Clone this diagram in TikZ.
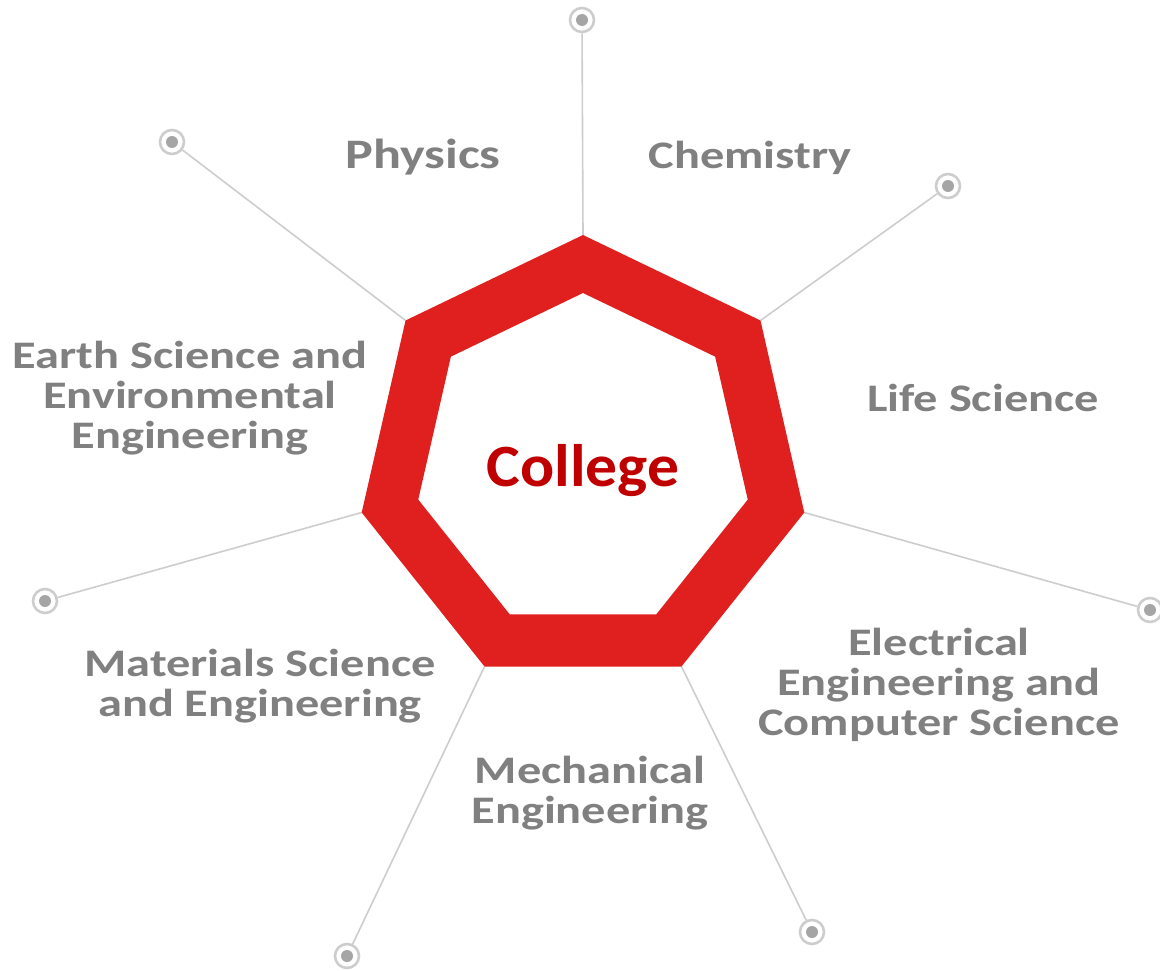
\documentclass[tikz,border=0pt]{standalone}
\usepackage{fontspec}
\setmainfont{Carlito}
\newfontfamily\fieldfont{Carlito}[FakeStretch=1.24]
\newfontfamily\collegefont{Carlito}[FakeStretch=1.06]
\usetikzlibrary{calc}
\usetikzlibrary{positioning}

\definecolor{labelgray}{RGB}{128,128,128}
\definecolor{ringred}{RGB}{224,32,30}
\definecolor{collegered}{RGB}{192,0,0}
\definecolor{spokegray}{RGB}{205,205,205}
\definecolor{hubgray}{RGB}{165,165,165}

\begin{document}
\begin{tikzpicture}
[x=1pt,y=-1pt,
 field/.style={text=labelgray,font=\fieldfont\fontsize{39}{40}\selectfont\bfseries,align=center,inner sep=0pt},
 spoke/.style={draw=spokegray,line width=1.6pt},
 marker/.style={circle,draw=spokegray,line width=2.6pt,fill=white,minimum size=24pt,inner sep=0pt}]

\useasboundingbox (0,0) rectangle (1160,971);

\coordinate (c) at (583,462);
\foreach \k in {0,...,6}{
  \coordinate (o\k) at ($(c)+(-90+\k*360/7:227)$);
  \coordinate (i\k) at ($(c)+(-90+\k*360/7:169)$);
}

\node[marker] (m0) at (582,20) {};
\node[marker] (m1) at (948,186) {};
\node[marker] (m2) at (1150,610) {};
\node[marker] (m3) at (812,932) {};
\node[marker] (m4) at (347,956) {};
\node[marker] (m5) at (45,601) {};
\node[marker] (m6) at (172,142) {};

\foreach \k in {0,...,6}{
  \fill[hubgray] (m\k.center) circle (6);
  \draw[spoke] (o\k) -- (m\k);
}

\fill[ringred,even odd rule] (o0) -- (o1) -- (o2) -- (o3) -- (o4) -- (o5) -- (o6) -- cycle
  (i0) -- (i1) -- (i2) -- (i3) -- (i4) -- (i5) -- (i6) -- cycle;

\node[text=collegered,font=\collegefont\fontsize{60}{62}\selectfont\bfseries,inner sep=0pt] (college) at (583,471) {College};

\node[field,font=\fieldfont\fontsize{42}{44}\selectfont\bfseries,anchor=base] (physics) at (423,169) {Physics};
\node[field,anchor=base] (chemistry) at (750,169) {Chemistry};
\node[field] (life) at (983,398) {Life Science};
\node[field] (eecs) at (939,685) {Electrical\\Engineering and\\Computer Science};
\node[field] (mech) at (590,793) {Mechanical\\Engineering};
\node[field] (mse) at (260,686) {Materials Science\\and Engineering};
\node[field] (earth) at (190,398) {Earth Science and\\Environmental\\Engineering};

\end{tikzpicture}
\end{document}
